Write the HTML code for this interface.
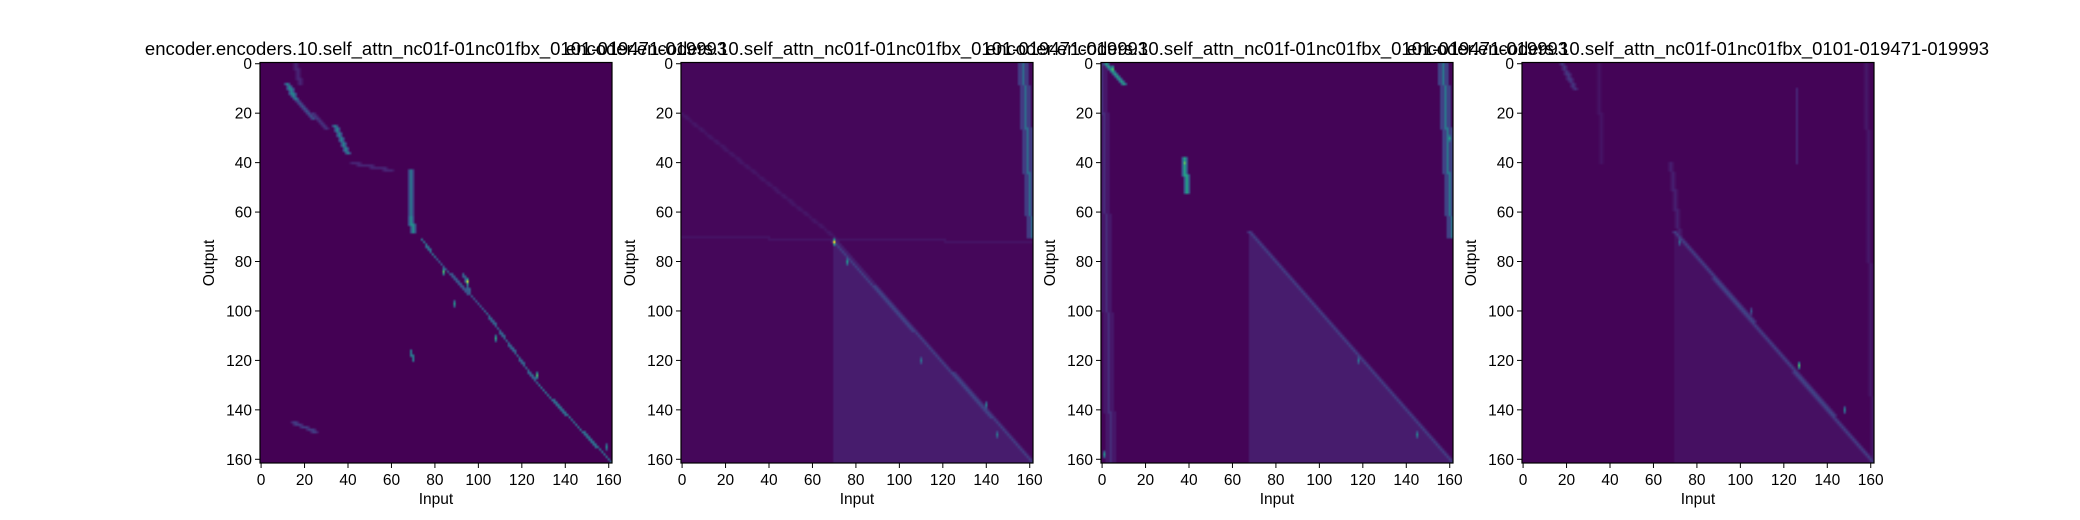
<!DOCTYPE html>
<html><head><meta charset="utf-8">
<style>
body{margin:0;background:#fff;width:2080px;height:520px;overflow:hidden;position:relative;font-family:"Liberation Sans","DejaVu Sans",sans-serif;}
canvas{position:absolute;image-rendering:auto;}
svg{position:absolute;left:0;top:0;}
</style></head>
<body>
<svg id="svg" width="2080" height="520"></svg>
<script>
// ---- data ----
const title = "encoder.encoders.10.self_attn_nc01f-01nc01fbx_0101-019471-019993";
const nRows = 162;
const xTicks = [0,20,40,60,80,100,120,140,160];
const yTicks = [0,20,40,60,80,100,120,140,160];
const background = [0.0, 0.02, 0.01, 0.01];
// strokes: [row0,col0,row1,col1,value,halfWidth]
const strokes1 = [[0,16,8,18,0.12,1],[8,12,14,16,0.5,1],[14,16,22,24,0.3,1],[20,24,26,30,0.18,1],[25,34,36,40,0.5,1],[40,42,43,60,0.12,1],[43,69,62,69,0.45,1],[62,69,68,70,0.55,1],[71,74,78,80,0.4,0],[78,80,100,103,0.3,0],[100,103,130,128,0.35,0],[130,128,161,161,0.4,0],[116,69,120,70,0.45,0],[145,15,149,25,0.2,1],[85,93,92,96,0.35,0]];
const spots1 = [[88,95,0.95],[84,84,0.8],[97,89,0.6],[111,108,0.7],[126,127,0.8],[155,159,0.55]];
const tris1 = [];
const strokes2 = [[0,157,70,161,0.4,2],[20,0,70,70,0.07,1],[72,70,161,161,0.22,1],[70,0,72,161,0.06,0]];
const spots2 = [[72,70,1.0],[80,76,0.6],[138,140,0.5],[120,110,0.45],[150,145,0.45]];
const tris2 = [[70,0.09]];
const strokes3 = [[0,2,8,10,0.65,1],[38,38,52,39,0.65,1],[0,0,161,4,0.15,2],[0,157,70,161,0.45,2],[68,68,161,161,0.22,1]];
const spots3 = [[2,5,0.8],[40,38,0.85],[158,1,0.6],[120,118,0.45],[150,145,0.5],[30,160,0.65]];
const tris3 = [[68,0.09]];
const strokes4 = [[0,18,10,24,0.18,1],[0,35,40,36,0.06,1],[10,126,40,126,0.12,0],[40,68,70,72,0.1,1],[68,70,161,161,0.22,1],[0,158,161,161,0.08,1]];
const spots4 = [[122,127,0.8],[140,148,0.5],[72,72,0.4],[100,105,0.3]];
const tris4 = [[70,0.05]];
const panelsData = [[strokes1,spots1,tris1],[strokes2,spots2,tris2],[strokes3,spots3,tris3],[strokes4,spots4,tris4]];

// ---- layout ----
const lefts = [260,681,1101,1522], W = 352, top0 = 62.5, H = 400.5;
const stops = [[0,'#440154'],[.13,'#482878'],[.25,'#3e4989'],[.38,'#31688e'],[.5,'#26828e'],[.63,'#1f9e89'],[.75,'#35b779'],[.88,'#6ece58'],[1,'#fde725']];
function hex(h){return [1,3,5].map(i=>parseInt(h.substr(i,2),16));}
function viridis(v){v=Math.max(0,Math.min(1,v));for(let i=1;i<stops.length;i++){if(v<=stops[i][0]){const a=stops[i-1],b=stops[i];const t=(v-a[0])/(b[0]-a[0]);const ca=hex(a[1]),cb=hex(b[1]);return ca.map((c,k)=>Math.round(c+(cb[k]-c)*t));}}return hex('#fde725');}
const svg=document.getElementById('svg');
const NS='http://www.w3.org/2000/svg';
function ys(v){return top0+(v+0.5)*H/nRows;}
function mk(tag,attrs,name,text){const e=document.createElementNS(NS,tag);for(const k in attrs)e.setAttribute(k,attrs[k]);


if(text!==undefined)e.textContent=text;svg.appendChild(e);return e;}
panelsData.forEach((pd,p)=>{
  const g=[];for(let r=0;r<nRows;r++){g.push(new Array(nRows).fill(background[p]));}
  pd[2].forEach(([r0,v])=>{for(let r=r0;r<nRows;r++)for(let c=r0;c<=r;c++)g[r][c]=Math.max(g[r][c],v);});
  pd[0].forEach(([r0,c0,r1,c1,v,w])=>{const n=Math.max(Math.abs(r1-r0),Math.abs(c1-c0))*2+1;for(let i=0;i<=n;i++){const r=Math.round(r0+(r1-r0)*i/n),c=Math.round(c0+(c1-c0)*i/n);for(let dc=-w;dc<=w;dc++){const cc=c+dc;if(cc>=0&&cc<nRows&&r>=0&&r<nRows)g[r][cc]=Math.max(g[r][cc],dc===0?v:v*0.5);}}});
  pd[1].forEach(([r,c,v])=>{for(let dr=-1;dr<=1;dr++){const rr=r+dr;if(rr>=0&&rr<nRows)g[rr][c]=Math.max(g[rr][c],dr===0?v:v*0.6);}});
  const cv=document.createElement('canvas');cv.width=nRows;cv.height=nRows;
  cv.style.left=lefts[p]+'px';cv.style.top=top0+'px';cv.style.width=W+'px';cv.style.height=H+'px';
  
  
  const ctx=cv.getContext('2d');const im=ctx.createImageData(nRows,nRows);
  for(let r=0;r<nRows;r++)for(let c=0;c<nRows;c++){const col=viridis(g[r][c]);const i=(r*nRows+c)*4;im.data[i]=col[0];im.data[i+1]=col[1];im.data[i+2]=col[2];im.data[i+3]=255;}
  ctx.putImageData(im,0,0);document.body.insertBefore(cv,svg);
  mk('rect',{x:lefts[p],y:top0,width:W,height:H,fill:'none',stroke:'#000','stroke-width':1.2},'axes-frame-'+(p+1));
  xTicks.forEach(t=>{const xx=lefts[p]+(t+0.5)*W/nRows;
    mk('line',{x1:xx,x2:xx,y1:top0+H,y2:top0+H+5,stroke:'#000','stroke-width':1},'x-tick');
    mk('text',{x:xx,y:top0+H+22,'text-anchor':'middle','font-size':15.5,fill:'#000'},'x-tick-label',String(t));});
  yTicks.forEach(t=>{const yy=ys(t);
    mk('line',{x1:lefts[p]-5,x2:lefts[p],y1:yy,y2:yy,stroke:'#000','stroke-width':1},'y-tick');
    mk('text',{x:lefts[p]-8,y:yy+5.5,'text-anchor':'end','font-size':15.5,fill:'#000'},'y-tick-label',String(t));});
  mk('text',{x:lefts[p]+W/2,y:504,'text-anchor':'middle','font-size':15.5,fill:'#000'},'x-axis-title','Input');
  mk('text',{x:lefts[p]-46,y:263,'text-anchor':'middle','font-size':15.5,fill:'#000',transform:`rotate(-90 ${lefts[p]-46} 263)`},'y-axis-title','Output');
  mk('text',{x:lefts[p]+W/2,y:55,'text-anchor':'middle','font-size':18.5,fill:'#000'},'panel-title',title);
});
</script>
</body></html>
